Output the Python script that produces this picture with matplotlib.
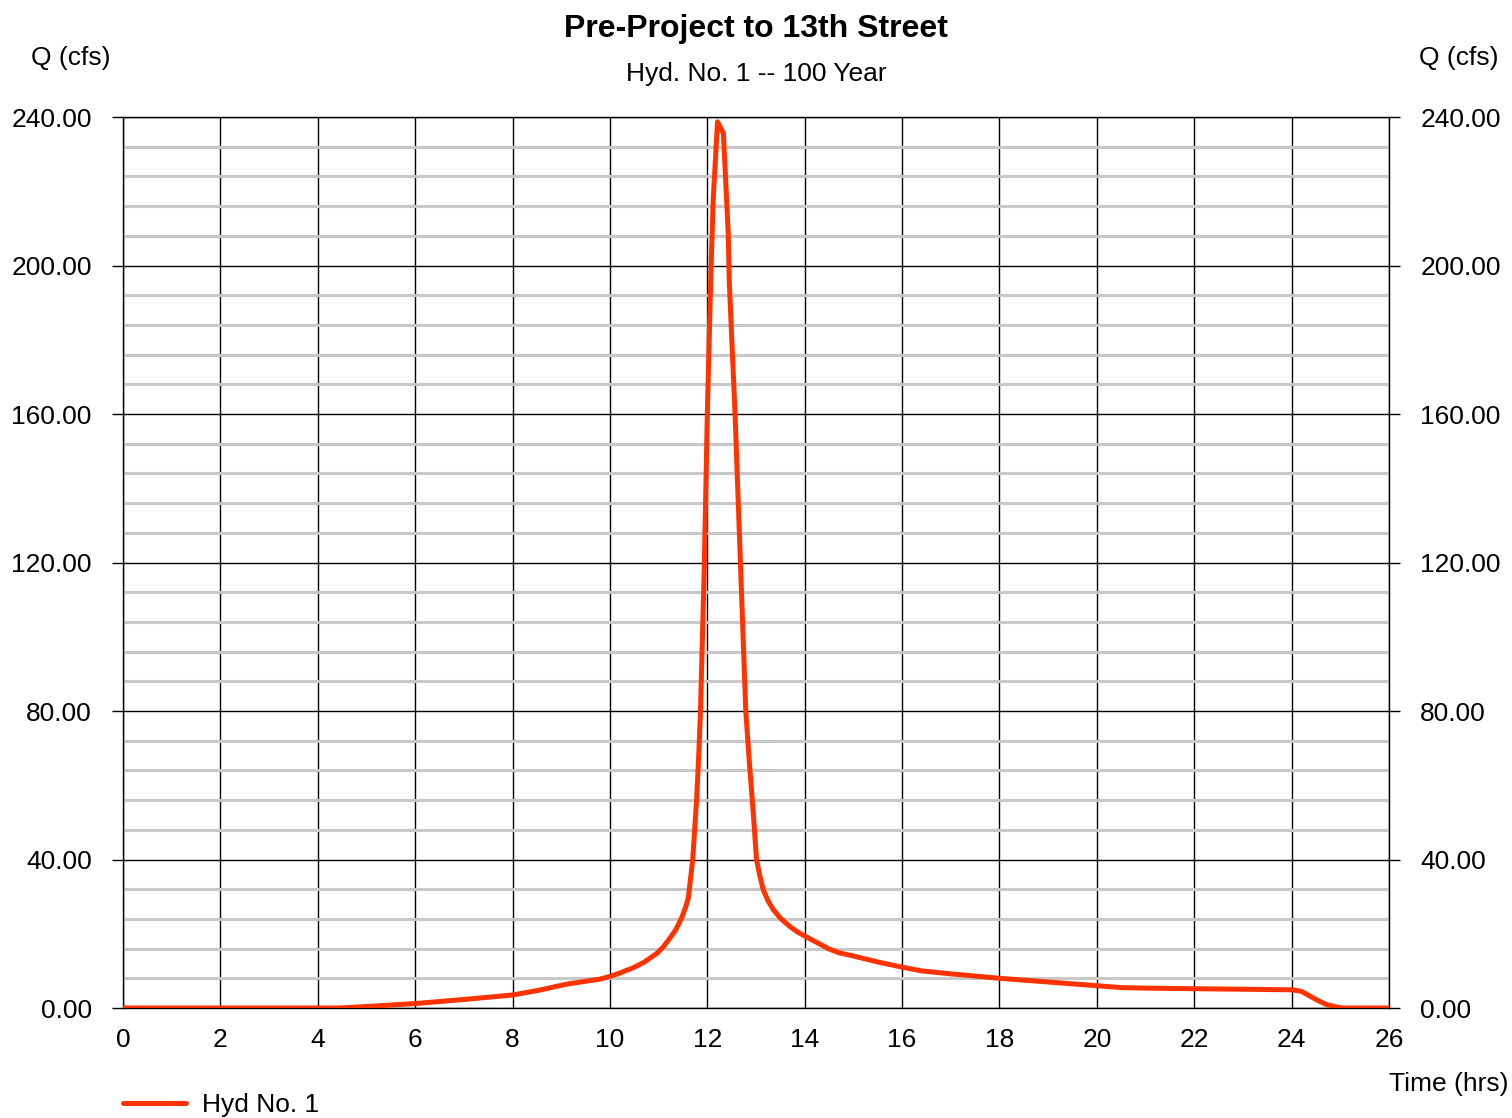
import matplotlib
matplotlib.use("Agg")
import matplotlib.pyplot as plt
from matplotlib.ticker import MultipleLocator, FormatStrFormatter

plt.rcParams["font.family"] = ["Liberation Sans", "DejaVu Sans"]

# Hydrograph (hrs, cfs)
time_hrs = [0.0, 4.0, 4.45, 5.0, 6.0, 7.0, 8.0, 8.55, 9.1, 9.8, 10.0, 10.2,
            10.47, 10.7, 10.97, 11.1, 11.23, 11.35, 11.48, 11.55, 11.61,
            11.70, 11.78, 11.82, 11.86, 11.94, 12.0, 12.07, 12.12, 12.21,
            12.33, 12.43, 12.45, 12.57, 12.68, 12.79, 12.86, 12.95, 13.01,
            13.08, 13.15, 13.25, 13.36, 13.5, 13.7, 13.85, 14.0, 14.2, 14.5,
            14.7, 15.0, 15.5, 16.0, 16.4, 17.0, 18.0, 19.0, 20.0, 20.5, 21.0,
            22.0, 23.0, 24.0, 24.2, 24.35, 24.5, 24.7, 24.9, 25.05, 26.0]
flow_cfs = [0.0, 0.0, 0.0, 0.4, 1.2, 2.3, 3.5, 4.8, 6.4, 7.8, 8.5, 9.4,
            10.8, 12.3, 14.8, 16.5, 18.8, 21.0, 24.5, 27.0, 29.6,
            40.0, 56.0, 66.8, 80.0, 120.0, 160.0, 196.0, 217.6, 238.7,
            235.6, 208.7, 196.0, 160.0, 120.0, 80.0, 66.8, 51.5, 40.0,
            35.5, 31.8, 28.8, 26.4, 24.2, 21.9, 20.5, 19.4, 18.0, 15.9,
            14.9, 14.0, 12.4, 11.0, 10.0, 9.2, 8.0, 7.0, 6.0, 5.5, 5.35,
            5.2, 5.05, 4.9, 4.5, 3.4, 2.3, 1.0, 0.3, 0.0, 0.0]

title = "Pre-Project to 13th Street"
subtitle = "Hyd. No. 1 -- 100 Year"
series_name = "Hyd No. 1"

fig = plt.figure(figsize=(15.12, 11.18), dpi=100)
ax = fig.add_axes([123 / 1512, 1 - 1008 / 1118, 1266 / 1512, 891 / 1118])

ax.plot(time_hrs, flow_cfs, color="#ff3300", linewidth=3.6, zorder=5,
        label=series_name, solid_capstyle="round", solid_joinstyle="round")

ax.set_xlim(0, 26)
ax.set_ylim(0, 240)
ax.xaxis.set_major_locator(MultipleLocator(2))
ax.yaxis.set_major_locator(MultipleLocator(40))
ax.yaxis.set_minor_locator(MultipleLocator(8))
ax.yaxis.set_major_formatter(FormatStrFormatter("%.2f"))

ax.grid(which="minor", axis="y", color="#c8c8c8", linewidth=2.2, zorder=1)
ax.grid(which="major", axis="both", color="black", linewidth=1.0, zorder=2)
ax.set_axisbelow(True)

for sp in ax.spines.values():
    sp.set_color("black")
    sp.set_linewidth(1.0)

ax.tick_params(axis="y", which="major", length=8, width=1.0, labelsize=19,
               left=True, right=True, labelleft=True, labelright=True, pad=14.5)
ax.tick_params(axis="y", which="minor", length=0)
ax.tick_params(axis="x", which="major", length=0, labelsize=19, pad=14.5)

fig.text(0.5, 1 - 29 / 1118, title, ha="center", va="center",
         fontsize=23, fontweight="bold")
fig.text(0.5, 1 - 74 / 1118, subtitle, ha="center", va="center", fontsize=19)
fig.text(71 / 1512, 1 - 58 / 1118, "Q (cfs)", ha="center", va="center", fontsize=19)
fig.text(1459 / 1512, 1 - 58 / 1118, "Q (cfs)", ha="center", va="center", fontsize=19)
fig.text(1449 / 1512, 1 - 1084 / 1118, "Time (hrs)", ha="center", va="center", fontsize=19)

fig.legend(loc="center left", bbox_to_anchor=(123 / 1512, 1 - 1105 / 1118),
           frameon=False, fontsize=19, handlelength=2.4, handletextpad=0.6,
           borderpad=0, borderaxespad=0)

fig.savefig("out.png", dpi=100)
